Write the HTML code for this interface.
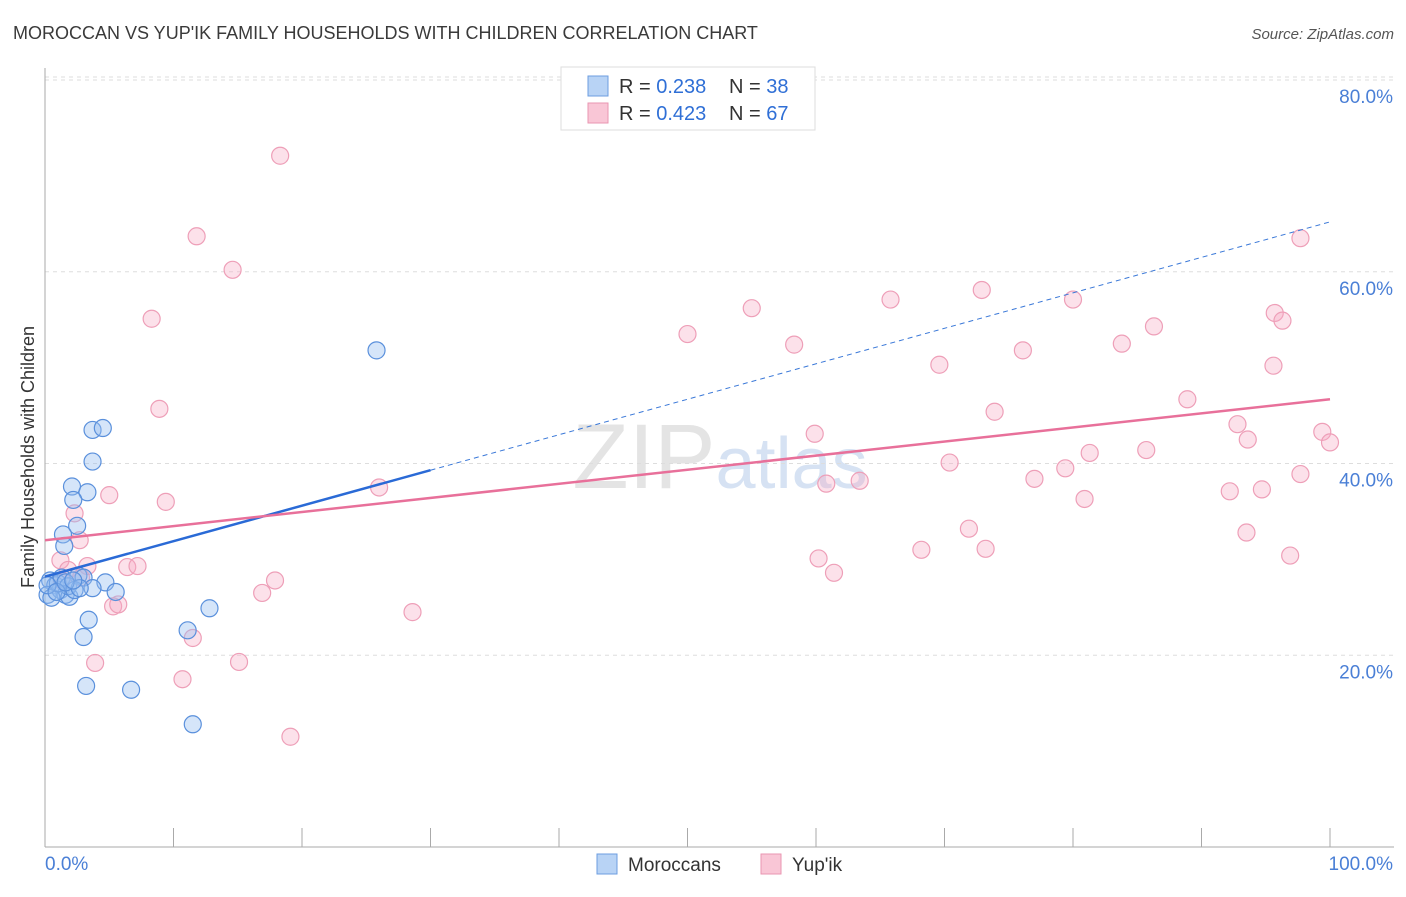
<!DOCTYPE html>
<html><head><meta charset="utf-8"><style>
body{margin:0;background:#fff;font-family:"Liberation Sans",sans-serif;}
svg text{font-family:"Liberation Sans",sans-serif;}
</style></head><body>
<svg id="chart" width="1406" height="892" viewBox="0 0 1406 892" xmlns="http://www.w3.org/2000/svg">
<text x="13" y="39" font-size="18" fill="#3a3a3a">MOROCCAN VS YUP'IK FAMILY HOUSEHOLDS WITH CHILDREN CORRELATION CHART</text>
<text x="1394" y="39" font-size="15" fill="#555" font-style="italic" text-anchor="end">Source: ZipAtlas.com</text>
<text x="720" y="488" font-size="92" text-anchor="middle" fill="#e4e4e4" font-family="Liberation Serif">ZIP<tspan fill="#d6e2f3" font-family="Liberation Sans" font-size="72">atlas</tspan></text>
<text transform="translate(34,457) rotate(-90)" font-size="18" fill="#333" text-anchor="middle">Family Households with Children</text>
<g id="grid"></g>
<g id="axes"></g>
<g id="points"></g>
<g id="trends"></g>
<g>
<rect x="561" y="67" width="254" height="63" fill="#fff" stroke="#ddd"/>
<rect x="588" y="76" width="20" height="20" fill="#b8d3f5" stroke="#6c9ee0"/>
<rect x="588" y="103" width="20" height="20" fill="#f9c6d6" stroke="#e996b1"/>
<text x="619" y="93" font-size="20" fill="#333">R = <tspan fill="#2f6fd6">0.238</tspan></text>
<text x="729" y="93" font-size="20" fill="#333">N = <tspan fill="#2f6fd6">38</tspan></text>
<text x="619" y="120" font-size="20" fill="#333">R = <tspan fill="#2f6fd6">0.423</tspan></text>
<text x="729" y="120" font-size="20" fill="#333">N = <tspan fill="#2f6fd6">67</tspan></text>
</g>
<g>
<rect x="597" y="854" width="20" height="20" fill="#b8d3f5" stroke="#6c9ee0"/>
<text x="628" y="871" font-size="19" fill="#333">Moroccans</text>
<rect x="761" y="854" width="20" height="20" fill="#f9c6d6" stroke="#e996b1"/>
<text x="792" y="871" font-size="19" fill="#333">Yup'ik</text>
</g>
</svg>
<script>
const yTicks=[20,40,60,80];
const xTickLabels=["0.0%","100.0%"];
const blueX=[25.8,3.7,4.5,3.7,2.1,3.3,2.2,2.5,1.4,1.5,2.6,4.7,3.0,3.7,5.5,12.8,3.4,3.0,11.1,3.2,6.7,11.5,0.4,0.8,0.2,1.2,1.6,1.9,0.5,1.0,1.3,1.8,2.3,2.7,0.2,0.9,1.6,2.2];
const blueY=[51.8,43.5,43.7,40.2,37.6,37.0,36.2,33.5,32.6,31.4,28.3,27.6,28.1,27.0,26.6,24.9,23.7,21.9,22.6,16.8,16.4,12.8,27.8,27.3,26.3,26.8,26.3,26.1,26.0,27.5,28.1,27.2,26.8,27.0,27.3,26.6,27.6,27.8];
const pinkX=[18.3,11.8,14.6,8.3,8.9,5.0,9.4,2.3,2.7,1.2,1.8,3.3,6.4,7.2,2.8,1.3,17.9,16.9,5.3,5.7,11.5,3.9,15.1,10.7,19.1,28.6,26.0,50.0,55.0,58.3,65.8,72.9,80.0,69.6,76.1,83.8,86.3,59.9,60.8,63.4,70.4,73.9,77.0,79.4,81.3,80.9,85.7,88.9,92.8,93.6,92.2,94.7,97.7,95.6,95.7,96.3,97.7,99.4,100,93.5,96.9,71.9,73.2,68.2,60.2,61.4];
const pinkY=[72.1,63.7,60.2,55.1,45.7,36.7,36.0,34.8,32.0,29.9,28.9,29.3,29.2,29.3,28.1,27.8,27.8,26.5,25.1,25.3,21.8,19.2,19.3,17.5,11.5,24.5,37.5,53.5,56.2,52.4,57.1,58.1,57.1,50.3,51.8,52.5,54.3,43.1,37.9,38.2,40.1,45.4,38.4,39.5,41.1,36.3,41.4,46.7,44.1,42.5,37.1,37.3,38.9,50.2,55.7,54.9,63.5,43.3,42.2,32.8,30.4,33.2,31.1,31.0,30.1,28.6];
const blueTrend=[28.2,65.2]; const blueSolidEnd=30;
const pinkTrend=[32.0,46.7];
const NS="http://www.w3.org/2000/svg";
const X=v=>45+v*12.85, Y=v=>847-v*9.5875;
function mk(tag,attrs,parent){const e=document.createElementNS(NS,tag);for(const k in attrs)e.setAttribute(k,attrs[k]);parent.appendChild(e);return e;}
const grid=document.getElementById('grid'),axes=document.getElementById('axes'),pts=document.getElementById('points'),tr=document.getElementById('trends');
yTicks.forEach(t=>{
 const l=mk('line',{x1:45,x2:1394,y1:Y(t),y2:Y(t),stroke:'#ddd','stroke-dasharray':'4,4'},grid);
 
 
 const tx=mk('text',{x:1393,y:Y(t)+23,'font-size':19,fill:'#4a7fd6','text-anchor':'end'},axes);
 tx.textContent=t.toFixed(1)+'%';
 
 
});
const gt=mk('line',{x1:45,x2:1394,y1:Y(80)-3,y2:Y(80)-3,stroke:'#ddd','stroke-dasharray':'4,4'},grid);


const ya=mk('line',{x1:45,x2:45,y1:68,y2:847,stroke:'#aaa'},axes);


const xa=mk('line',{x1:45,x2:1394,y1:847,y2:847,stroke:'#aaa'},axes);


for(let i=1;i<=10;i++){const t=mk('line',{x1:X(i*10),x2:X(i*10),y1:828,y2:847,stroke:'#aaa'},axes);
 
 }
const xl0=mk('text',{x:45,y:870,'font-size':19,fill:'#4a7fd6'},axes);xl0.textContent=xTickLabels[0];


const xl1=mk('text',{x:1393,y:870,'font-size':19,fill:'#4a7fd6','text-anchor':'end'},axes);xl1.textContent=xTickLabels[1];


pinkX.forEach((x,i)=>{const c=mk('circle',{cx:X(x),cy:Y(pinkY[i]),r:8.5,fill:'rgba(246,170,195,0.35)',stroke:'#ee9fb8','stroke-width':1.2},pts);
 
 });
blueX.forEach((x,i)=>{const c=mk('circle',{cx:X(x),cy:Y(blueY[i]),r:8.5,fill:'rgba(150,190,240,0.4)',stroke:'#5a90dc','stroke-width':1.2},pts);
 
 });
const bAt=x=>blueTrend[0]+(blueTrend[1]-blueTrend[0])*x/100;
const bd=mk('line',{x1:X(blueSolidEnd),y1:Y(bAt(blueSolidEnd)),x2:X(100),y2:Y(blueTrend[1]),stroke:'#3a78d8','stroke-width':1,'stroke-dasharray':'5,4'},tr);


const bs=mk('line',{x1:X(0),y1:Y(blueTrend[0]),x2:X(blueSolidEnd),y2:Y(bAt(blueSolidEnd)),stroke:'#2a6ad6','stroke-width':2.5},tr);


const pl=mk('line',{x1:X(0),y1:Y(pinkTrend[0]),x2:X(100),y2:Y(pinkTrend[1]),stroke:'#e8709a','stroke-width':2.5},tr);


</script>
</body></html>
